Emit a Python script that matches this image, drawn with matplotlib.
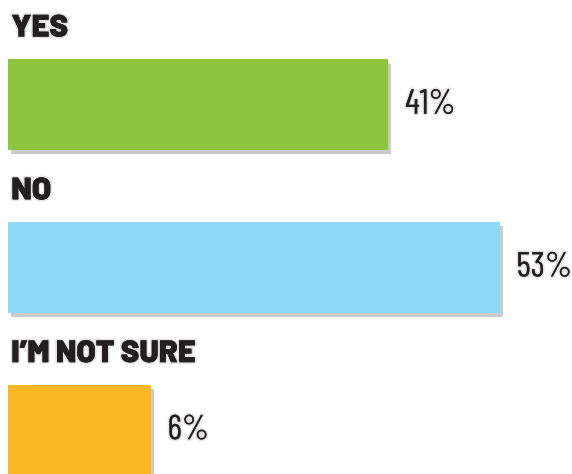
import matplotlib.pyplot as plt
import matplotlib.patheffects as pe

# survey answers
answers = ['YES', 'NO', 'I\u2019M NOT SURE']
percent = [41, 53, 6]
colors = ['#8cc63f', '#8ed8f8', '#fbb724']

# short bars are stretched so the label still has room
min_len = 15.4
text_color = '#231f20'

fig = plt.figure(figsize=(5.72, 4.74), dpi=100)
ax = fig.add_axes([0, 0, 1, 1])

ypos = list(range(len(answers)))
lengths = [max(p, min_len) for p in percent]
bars = ax.barh(ypos, lengths, height=0.555, color=colors)
for b in bars:
	b.set_path_effects([pe.SimplePatchShadow(offset=(2, -3), shadow_rgbFace='#555555', alpha=0.3), pe.Normal()])

glow = [pe.withStroke(linewidth=2.5, foreground='#e4e4e4'), pe.Normal()]
for y, name, p, l in zip(ypos, answers, percent, lengths):
	ax.text(0.35, y - 0.47, name, ha='left', va='center', fontsize=22.5, fontweight=900,
		family='Barlow', color=text_color, path_effects=glow)
	ax.text(l + 1.8, y, '%d%%' % p, ha='left', va='center', fontsize=25,
		family='Barlow Condensed', color=text_color, path_effects=glow)

ax.set_xlim(-0.862, 60.78)
ax.set_ylim(2.269, -0.643)
ax.axis('off')
fig.savefig('out.png', dpi=100)
